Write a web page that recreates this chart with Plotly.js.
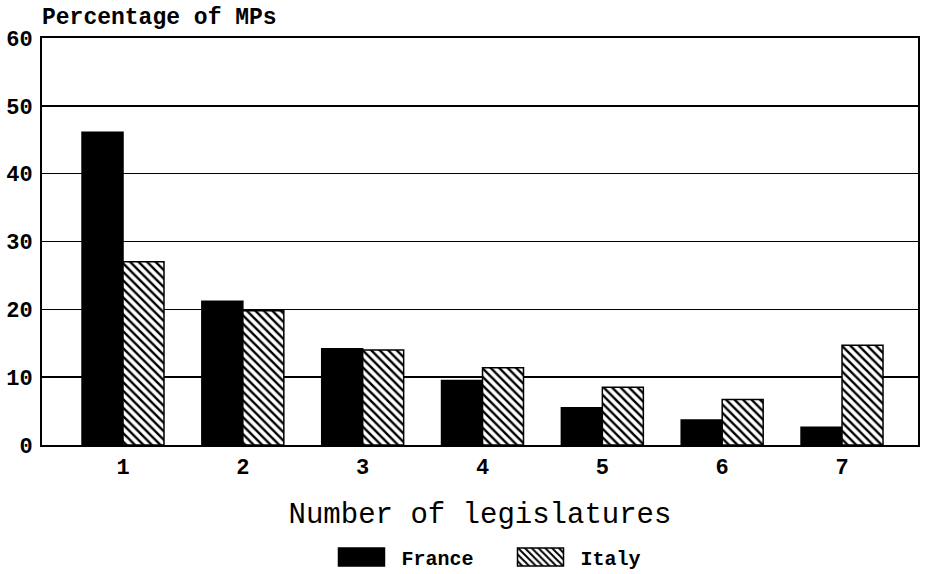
<!DOCTYPE html>
<html>
<head>
<meta charset="utf-8">
<script src="https://cdn.plot.ly/plotly-3.0.1.min.js"></script>
<style>
html,body{margin:0;padding:0;background:#fff;}
#chart{width:926px;height:574px;}
</style>
</head>
<body>
<div id="chart"></div>
<script>
const categories = [1, 2, 3, 4, 5, 6, 7];
const tickLabels = ["1", "2", "3", "4", "5", "6", "7"];
const france = [46.1, 21.2, 14.2, 9.5, 5.5, 3.7, 2.6];
const italy = [27.0, 19.8, 14.0, 11.4, 8.5, 6.7, 14.7];
const yTicks = [0, 10, 20, 30, 40, 50, 60];

const FONT = "Liberation Mono, Courier New, monospace";

const traces = [
  {
    type: "bar", name: "France", x: categories, y: france,
    marker: {color: "#000", line: {color: "#000", width: 1.5}}
  },
  {
    type: "bar", name: "Italy", x: categories, y: italy,
    marker: {
      color: "#fff",
      line: {color: "#000", width: 1.5},
      pattern: {shape: "\\", fgcolor: "#000", bgcolor: "#fff", size: 6, solidity: 0.4}
    }
  }
];

const layout = {
  width: 926, height: 574,
  margin: {l: 42, r: 8, t: 38, b: 129, autoexpand: false},
  paper_bgcolor: "#fff", plot_bgcolor: "#fff",
  barmode: "group", bargap: 0.316, bargroupgap: 0,
  font: {family: FONT, color: "#000", size: 16},
  xaxis: {
    range: [0.324, 7.634],
    tickvals: categories, ticktext: tickLabels,
    tickfont: {family: FONT, size: 22, weight: "bold"},
    ticklabelstandoff: 1,
    showgrid: false, zeroline: false,
    showline: true, mirror: true, linecolor: "#000", linewidth: 2,
    ticks: "", ticklen: 0,
    title: {text: "Number of legislatures", font: {family: FONT, size: 29}, standoff: 22}
  },
  yaxis: {
    range: [0, 60], tickvals: yTicks,
    tickfont: {family: FONT, size: 22, weight: "bold"},
    ticklabelstandoff: 3,
    showgrid: true, gridcolor: "#000", gridwidth: 1.5,
    zeroline: false,
    showline: true, mirror: true, linecolor: "#000", linewidth: 2,
    ticks: "", ticklen: 0
  },
  showlegend: true,
  legend: {
    orientation: "h", x: 0.492, xanchor: "center", y: -0.275, yanchor: "middle",
    font: {family: FONT, size: 20, weight: "bold"},
    itemwidth: 92, traceorder: "normal"
  },
  annotations: [{
    xref: "paper", yref: "paper", x: -0.002, y: 1, xanchor: "left", yanchor: "bottom",
    yshift: 5, showarrow: false,
    text: "Percentage of MPs",
    font: {family: FONT, size: 23, weight: "bold"}
  }]
};

Plotly.newPlot("chart", traces, layout, {displayModeBar: false, staticPlot: true}).then(function (gd) {
  // enlarge legend swatches to wide rectangles like the original
  gd.querySelectorAll(".legend .traces").forEach(function (tr) {
    const txt = tr.querySelector("text.legendtext");
    const tx = txt ? parseFloat(txt.getAttribute("x")) : 40;
    tr.querySelectorAll(".legendpoints path").forEach(function (p) {
      p.setAttribute("d", "M23,9H-23V-9H23Z");
      p.setAttribute("transform", "translate(" + (tx - 17 - 23) + ",0)");
    });
  });
});
</script>
</body>
</html>
